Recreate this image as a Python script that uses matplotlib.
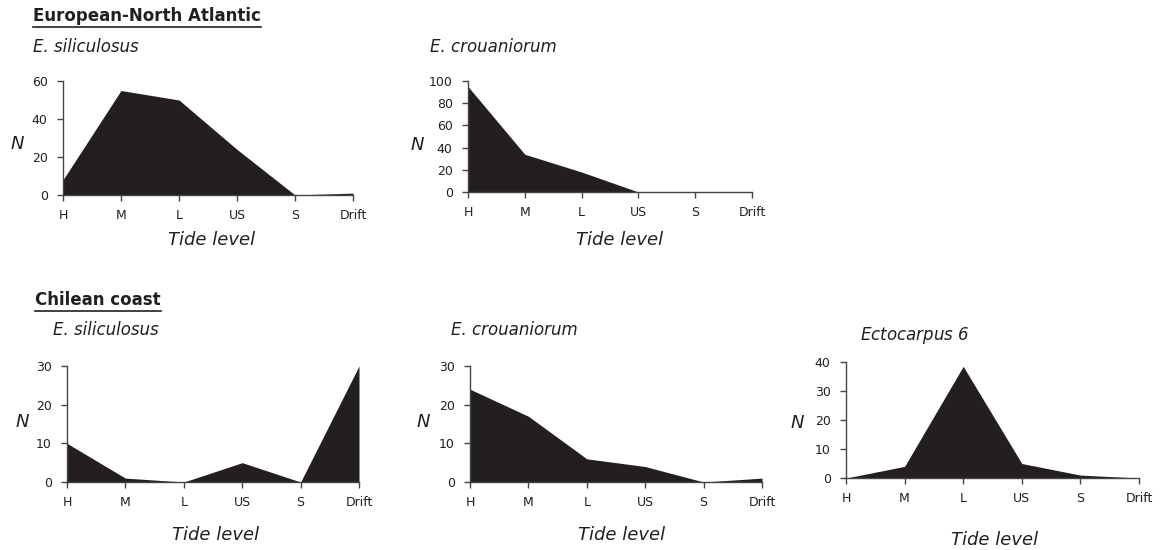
import numpy as np
import matplotlib
matplotlib.use('Agg')
import matplotlib.pyplot as plt
from matplotlib.lines import Line2D

levels = ['H', 'M', 'L', 'US', 'S', 'Drift']

eu_silic = [8, 55, 50, 24, 0, 1]
eu_crouan = [95, 34, 18, 0, 0, 0]
cl_silic = [10, 1, 0, 5, 0, 30]
cl_crouan = [24, 17, 6, 4, 0, 1]
cl_ecto6 = [0, 4, 38.5, 5, 1, 0]

W, H = 1162, 550
fig = plt.figure(figsize=(W / 100, H / 100), dpi=100)
fill_col = '#231f20'
txt_col = '#231f20'

def px_axes(left, right, bottom, top):
    return fig.add_axes([left / W, (H - bottom) / H, (right - left) / W, (bottom - top) / H])

def ftext(x, y, s, **kw):
    return fig.text(x / W, 1 - y / H, s, color=txt_col, **kw)

# (values, ymax, ystep, axes box, N pos, Tide level pos, title pos, title)
panels = [
    (eu_silic, 60, 20, (63, 353, 195, 81), (17, 144), (212, 240), (33, 47), 'E. siliculosus'),
    (eu_crouan, 100, 20, (468, 752, 192, 81), (417, 145), (620, 240), (430, 47), 'E. crouaniorum'),
    (cl_silic, 30, 10, (67, 359, 482, 366), (22, 422), (216, 535), (53, 330), 'E. siliculosus'),
    (cl_crouan, 30, 10, (470, 762, 482, 366), (423, 422), (622, 535), (451, 330), 'E. crouaniorum'),
    (cl_ecto6, 40, 10, (846, 1139, 478, 362), (797, 423), (995, 540), (860, 336), r'$\mathit{Ectocarpus}$ 6'),
]

x = np.arange(len(levels))
for vals, ymax, ystep, box, npos, tpos, spos, sp in panels:
    ax = px_axes(*box)
    ax.fill_between(x, vals, 0, color=fill_col, linewidth=0)
    ax.set_xlim(0, len(levels) - 1)
    ax.set_ylim(0, ymax)
    ax.set_xticks(x)
    ax.set_xticklabels(levels)
    ax.set_yticks(np.arange(0, ymax + 1, ystep))
    for s in ['top', 'right']:
        ax.spines[s].set_visible(False)
    for s in ['left', 'bottom']:
        ax.spines[s].set_color('#444444')
        ax.spines[s].set_linewidth(1.0)
    ax.tick_params(axis='both', direction='out', length=4, width=1, color='#444444',
                   labelsize=9, labelcolor=txt_col)
    ax.tick_params(axis='x', pad=6)
    ax.tick_params(axis='y', pad=7)
    ax.patch.set_alpha(0)
    ftext(npos[0], npos[1], 'N', fontsize=13, style='italic', ha='center', va='center')
    ftext(tpos[0], tpos[1], 'Tide level', fontsize=13, style='italic', ha='center', va='center')
    ftext(spos[0], spos[1], sp, fontsize=12, style='italic', ha='left', va='center')

headers = [
    (33, 16, 'European-North Atlantic'),
    (35, 300, 'Chilean coast'),
]
fig.canvas.draw()
r = fig.canvas.get_renderer()
for hx, hy, s in headers:
    t = ftext(hx, hy, s, fontsize=12, fontweight='bold', ha='left', va='center')
    bb = t.get_window_extent(renderer=r)
    yline = (bb.y0 - 1.5) / H
    fig.add_artist(Line2D([bb.x0 / W, bb.x1 / W], [yline, yline], color=txt_col, linewidth=1.2))

fig.savefig('out.png', dpi=100)
